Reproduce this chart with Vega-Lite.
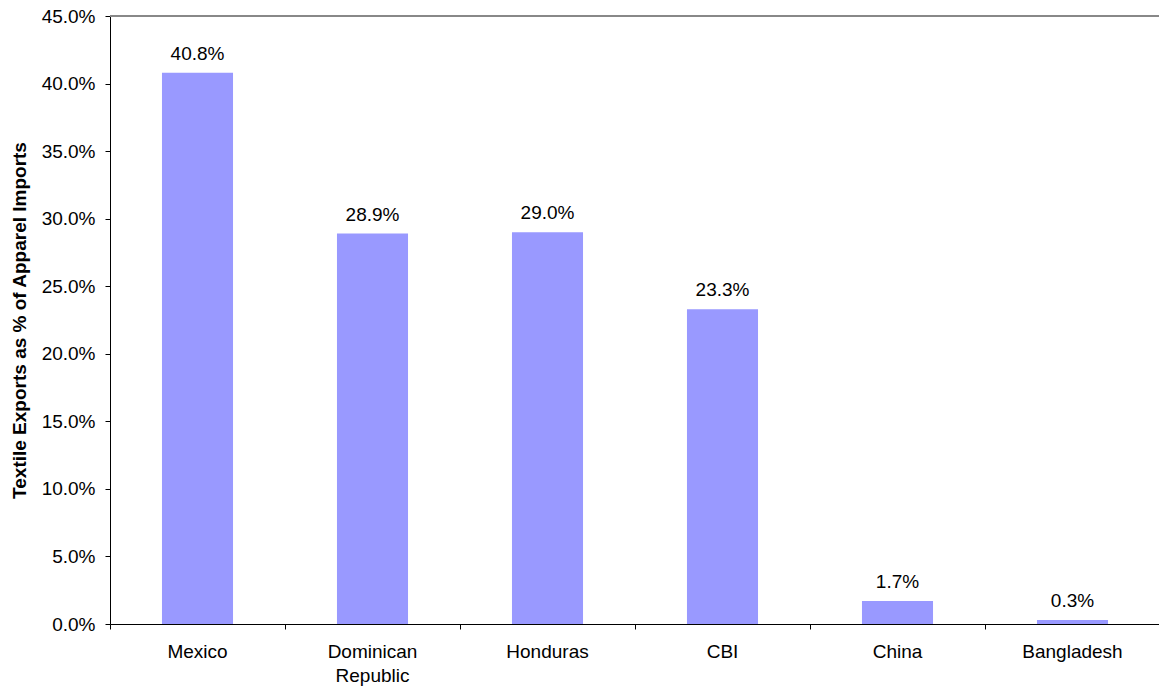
{
  "$schema": "https://vega.github.io/schema/vega-lite/v6.json",
  "width": 1050,
  "height": 608,
  "autosize": {"type": "none"},
  "padding": {"left": 110, "top": 16, "right": 0, "bottom": 67},
  "background": "white",
  "config": {
    "view": {"stroke": null},
    "font": "Liberation Sans",
    "axis": {"labelFont": "Liberation Sans", "titleFont": "Liberation Sans", "labelColor": "black", "titleColor": "black", "grid": false, "domainColor": "black", "tickColor": "black"}
  },
  "data": {
    "values": [
      {"country": "Mexico", "share": 0.408},
      {"country": "Dominican Republic", "share": 0.289},
      {"country": "Honduras", "share": 0.290},
      {"country": "CBI", "share": 0.233},
      {"country": "China", "share": 0.017},
      {"country": "Bangladesh", "share": 0.003}
    ]
  },
  "encoding": {
    "x": {
      "field": "country",
      "type": "nominal",
      "sort": null,
      "scale": {"paddingInner": 0, "paddingOuter": 0},
      "axis": {
        "title": null,
        "labelAngle": 0,
        "labelFontSize": 19,
        "bandPosition": 0,
        "tickSize": 5,
        "labelPadding": 13,
        "labelLineHeight": 24,
        "labelExpr": "datum.label == 'Dominican Republic' ? ['Dominican', 'Republic'] : datum.label"
      }
    }
  },
  "layer": [
    {
      "mark": {"type": "bar", "color": "#9999FF", "width": {"band": 0.406}},
      "encoding": {
        "y": {
          "field": "share",
          "type": "quantitative",
          "scale": {"domain": [0, 0.45], "nice": false},
          "axis": {
            "title": "Textile Exports as % of Apparel Imports",
            "titleFontSize": 19,
            "titleFontWeight": "bold",
            "titlePadding": 12,
            "format": ".1%",
            "values": [0, 0.05, 0.1, 0.15, 0.2, 0.25, 0.3, 0.35, 0.4, 0.45],
            "labelFontSize": 19,
            "tickSize": 5,
            "labelPadding": 10
          }
        }
      }
    },
    {
      "mark": {"type": "text", "fontSize": 19, "color": "black", "dy": -13, "baseline": "alphabetic"},
      "encoding": {
        "y": {"field": "share", "type": "quantitative"},
        "text": {"field": "share", "type": "quantitative", "format": ".1%"}
      }
    },
    {
      "mark": {"type": "rule", "color": "#888888", "strokeWidth": 2},
      "encoding": {"y": {"datum": 0.45}, "x": {"value": 0}, "x2": {"value": 1050}}
    }
  ]
}
